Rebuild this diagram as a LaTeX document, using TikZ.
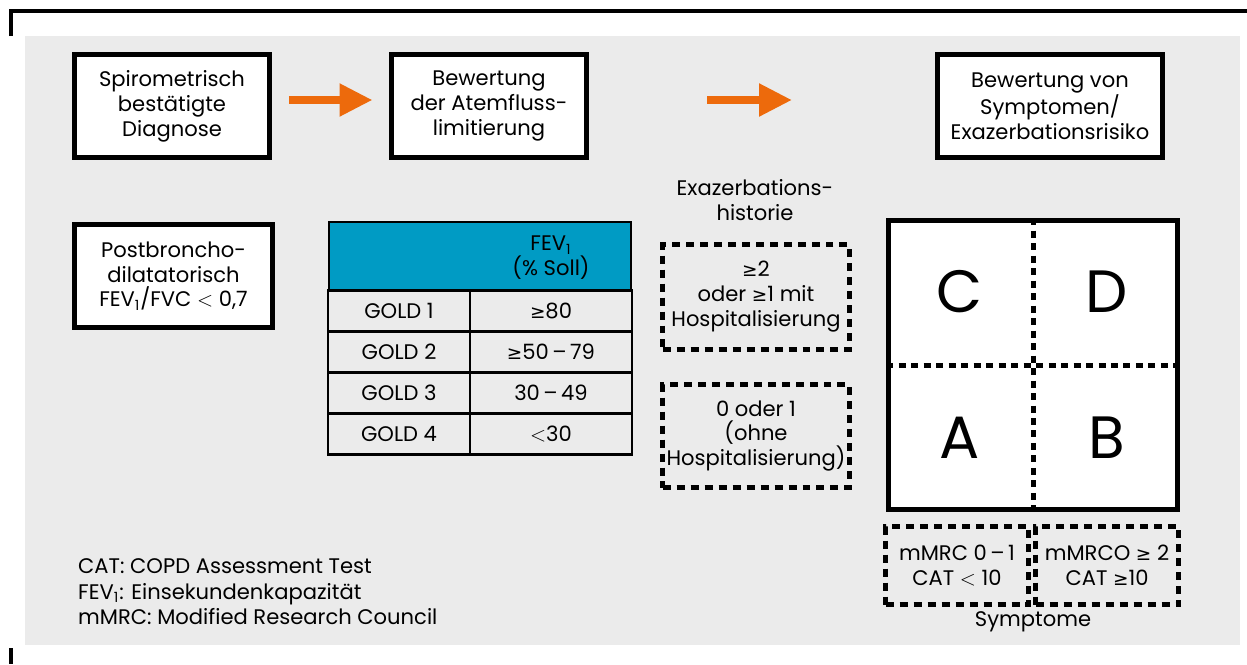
\documentclass[tikz,border=0pt]{standalone}
\usepackage{fontspec}
\setmainfont{Poppins}
\newfontfamily\symfont{DejaVu Sans}
\newcommand{\geqsym}{{\symfont\fontsize{10.5}{12}\selectfont ≥}}
\usetikzlibrary{positioning, arrows.meta}
\definecolor{copdorange}{RGB}{237,106,12}
\definecolor{copdblue}{RGB}{0,155,196}
\definecolor{copdgray}{RGB}{235,235,235}

\begin{document}
\begin{tikzpicture}[x=0.02cm, y=-0.02cm, >=latex,
  font=\fontsize{12}{14.2}\selectfont,
  box/.style={draw, line width=0.1cm, fill=white, align=center,
    minimum width=3.9cm, minimum height=2.06cm, inner sep=0pt},
  dotbox/.style={draw, line width=0.1cm, dash pattern=on 0.16cm off 0.12cm,
    align=center, inner sep=0pt},
  cell/.style={draw, line width=0.05cm, fill=copdgray, minimum height=0.82cm, inner sep=0pt},
  quaddash/.style={line width=0.1cm, dash pattern=on 0.14cm off 0.11cm},
  flow/.style={draw=copdorange, line width=0.16cm, -{Triangle[length=0.66cm, width=0.62cm]}},
  letter/.style={font=\fontsize{34}{40}\selectfont}
]
  \useasboundingbox (0,0) rectangle (1247,664);
  % frame and background
  \draw[line width=0.08cm] (11,36) |- (1247,11);
  \draw[line width=0.08cm] (11,648) -- (11,664);
  \fill[copdgray] (25,36) rectangle (1240,645);

  % top row
  \node[box] (diag) at (172,106) {Spirometrisch\\bestätigte\\Diagnose};
  \node[box, minimum width=3.92cm] (bewatem) at (489,106) {Bewertung\\der Atemfluss-\\limitierung};
  \node[box, minimum width=4.5cm] (bewsym) at (1050,106) {Bewertung von\\Symptomen/\\Exazerbationsrisiko};

  \draw[flow, shorten <=0.34cm, shorten >=0.32cm] ([yshift=0.12cm]diag.east) -- ([yshift=0.12cm]bewatem.west);
  \draw[flow, shorten <=2.36cm, shorten >=2.86cm] ([yshift=0.12cm]bewatem.east) -- ([yshift=0.12cm]bewsym.west);

  \node[box, minimum width=3.96cm] (postbr) at (173.5,276) {Postbroncho-\\dilatatorisch\\FEV\textsubscript{1}/FVC $<$ 0,7};

  % GOLD table
  \node[cell, fill=copdblue, minimum width=6.04cm, minimum height=1.36cm] (head) at (480,256) {};
  \node[align=center] (headtxt) at (551,258) {FEV\textsubscript{1}\\(\% Soll)};
  \foreach \g/\v [count=\i] in {1/{\geqsym80}, 2/{\geqsym50\,--\,79}, 3/{30\,--\,49}, 4/{$<$30}} {
    \node[cell, minimum width=2.84cm] (gold\i) at (399,270+41*\i) {GOLD \g};
    \node[cell, minimum width=3.24cm] (fev\i) at (551,270+41*\i) {\v};
  }

  % exacerbation history
  \node[align=center] (exahead) at (755,200) {Exazerbations-\\historie};
  \node[dotbox, minimum width=3.74cm, minimum height=2.1cm] (exahigh) at (756,297)
    {\geqsym2\\oder \geqsym1 mit\\Hospitalisierung};
  \node[dotbox, minimum width=3.74cm, minimum height=2.06cm] (exalow) at (756,436)
    {0 oder 1\\(ohne\\Hospitalisierung)};

  % ABCD square
  \node[draw, line width=0.1cm, fill=white, minimum size=5.78cm, inner sep=0pt] (quad) at (1033,365) {};
  \draw[quaddash] (quad.north) -- (quad.south);
  \draw[quaddash] (quad.west) -- (quad.east);
  \node[letter] (grpC) at (960,292) {C};
  \node[letter] (grpD) at (1107,292) {D};
  \node[letter] (grpA) at (960,438) {A};
  \node[letter] (grpB) at (1107,438) {B};

  \node[dotbox, minimum width=2.86cm, minimum height=1.56cm] (symlow) at (957,565.5)
    {mMRC 0\,--\,1\\CAT $<$ 10};
  \node[dotbox, minimum width=2.86cm, minimum height=1.56cm] (symhigh) at (1107,565.5)
    {mMRCO \geqsym{} 2\\CAT \geqsym10};
  \node (symtxt) at (1033,622) {Symptome};

  % legend
  \node[anchor=west, align=left, font=\fontsize{12}{14.5}\selectfont] (legend) at (72,592)
    {CAT: COPD Assessment Test\\FEV\textsubscript{1}: Einsekundenkapazität\\mMRC: Modified Research Council};
\end{tikzpicture}
\end{document}
